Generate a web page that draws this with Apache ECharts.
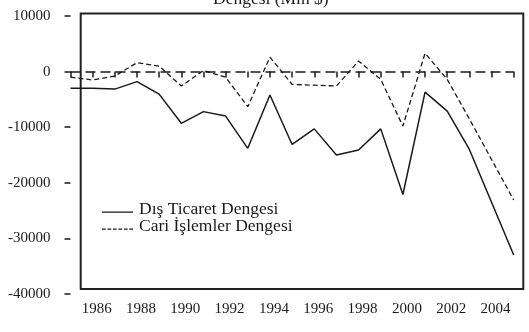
<!DOCTYPE html>
<html>
<head>
<meta charset="utf-8">
<script src="https://cdn.jsdelivr.net/npm/echarts@6/dist/echarts.min.js"></script>
<style>
  html, body { margin: 0; padding: 0; background: #fff; }
  #chart { width: 529px; height: 332px; }
</style>
</head>
<body>
<div id="chart"></div>
<script>
// yıllar ve dengeler (Mln $)
const years = [1985, 1986, 1987, 1988, 1989, 1990, 1991, 1992, 1993, 1994, 1995,
  1996, 1997, 1998, 1999, 2000, 2001, 2002, 2003, 2004, 2005];
const disTicaret = [-3000, -3000, -3150, -1800, -4050, -9300, -7200, -8000, -13800, -4200, -13100,
  -10300, -15000, -14100, -10300, -22100, -3700, -7100, -14000, -23500, -33000];
const cariIslemler = [-1000, -1500, -800, 1600, 1000, -2600, 200, -1000, -6300, 2600, -2300,
  -2450, -2600, 1900, -1400, -9800, 3300, -1400, -8500, -15800, -23100];
const seriesNames = ["Dış Ticaret Dengesi", "Cari İşlemler Dengesi"];
const yTicks = { min: -40000, max: 10000, step: 10000 };

const font = "Liberation Serif";
const ink = "#1a1a1a";

// legend icons: underscore and "------", pushed a little below the text middle
const pin = "M0,0h0.01v0.01h-0.01z";
const solidIcon = "path://" + pin + "M0,6h30v1.4h-30z";
const dashIcon = "path://" + pin + "M0,6h3.6v1.4h-3.6zM5.3,6h3.6v1.4h-3.6zM10.6,6h3.6v1.4h-3.6zM15.9,6h3.6v1.4h-3.6zM21.2,6h3.6v1.4h-3.6zM26.4,6h3.6v1.4h-3.6z";

const chart = echarts.init(document.getElementById("chart"));

const option = {
  backgroundColor: "#fff",
  animation: false,
  title: {
    text: "Dengesi (Mln $)",
    left: 208,
    top: -15,
    textStyle: { fontFamily: font, fontSize: 17.5, fontWeight: "normal", color: ink },
  },
  legend: {
    orient: "vertical",
    left: 102,
    top: 200,
    padding: 0,
    itemWidth: 31,
    itemHeight: 7.65,
    itemGap: -1,
    data: [
      { name: seriesNames[0], icon: solidIcon },
      { name: seriesNames[1], icon: dashIcon },
    ],
    textStyle: { fontFamily: font, fontSize: 17.5, color: ink, lineHeight: 17, padding: [0, 0, 0, 1] },
  },
  grid: { left: 70.5, right: 15.3, top: 16, bottom: 38 },
  xAxis: {
    type: "value",
    min: years[0],
    max: years[years.length - 1],
    interval: 1,
    axisLine: { show: false },
    axisTick: { show: true, length: 6, lineStyle: { color: ink, width: 1.5 } },
    splitLine: { show: false },
    axisLabel: {
      margin: 8,
      padding: [0, 0, 0, 8],
      fontFamily: font,
      fontSize: 15,
      color: ink,
      formatter: (v) => (v % 2 === 0 ? String(v) : ""),
    },
  },
  yAxis: {
    type: "value",
    min: yTicks.min,
    max: yTicks.max,
    interval: yTicks.step,
    axisLine: { show: false },
    axisTick: { show: true, length: 6, lineStyle: { color: ink, width: 1.5 } },
    splitLine: { show: false },
    axisLabel: { margin: 20, fontFamily: font, fontSize: 15, color: ink, formatter: (v) => String(v) },
  },
  graphic: [
    {
      type: "rect",
      shape: { x: 80.7, y: 13.5, width: 442.6, height: 275.5 },
      style: { fill: "none", stroke: "#222", lineWidth: 2 },
      silent: true,
    },
  ],
  series: [
    {
      name: seriesNames[0],
      type: "line",
      symbol: "none",
      data: years.map((y, i) => [y, disTicaret[i]]),
      lineStyle: { color: ink, width: 1.5 },
      itemStyle: { color: ink },
      markLine: {
        silent: true,
        symbol: "none",
        label: { show: false },
        lineStyle: { color: ink, width: 1.5, type: [10, 5] },
        data: [[{ coord: [years[0], 0] }, { coord: [years[years.length - 1], 0] }]],
      },
    },
    {
      name: seriesNames[1],
      type: "line",
      symbol: "none",
      data: years.map((y, i) => [y, cariIslemler[i]]),
      lineStyle: { color: ink, width: 1.3, type: [5, 3] },
      itemStyle: { color: ink },
    },
  ],
};

chart.setOption(option);
</script>
</body>
</html>
